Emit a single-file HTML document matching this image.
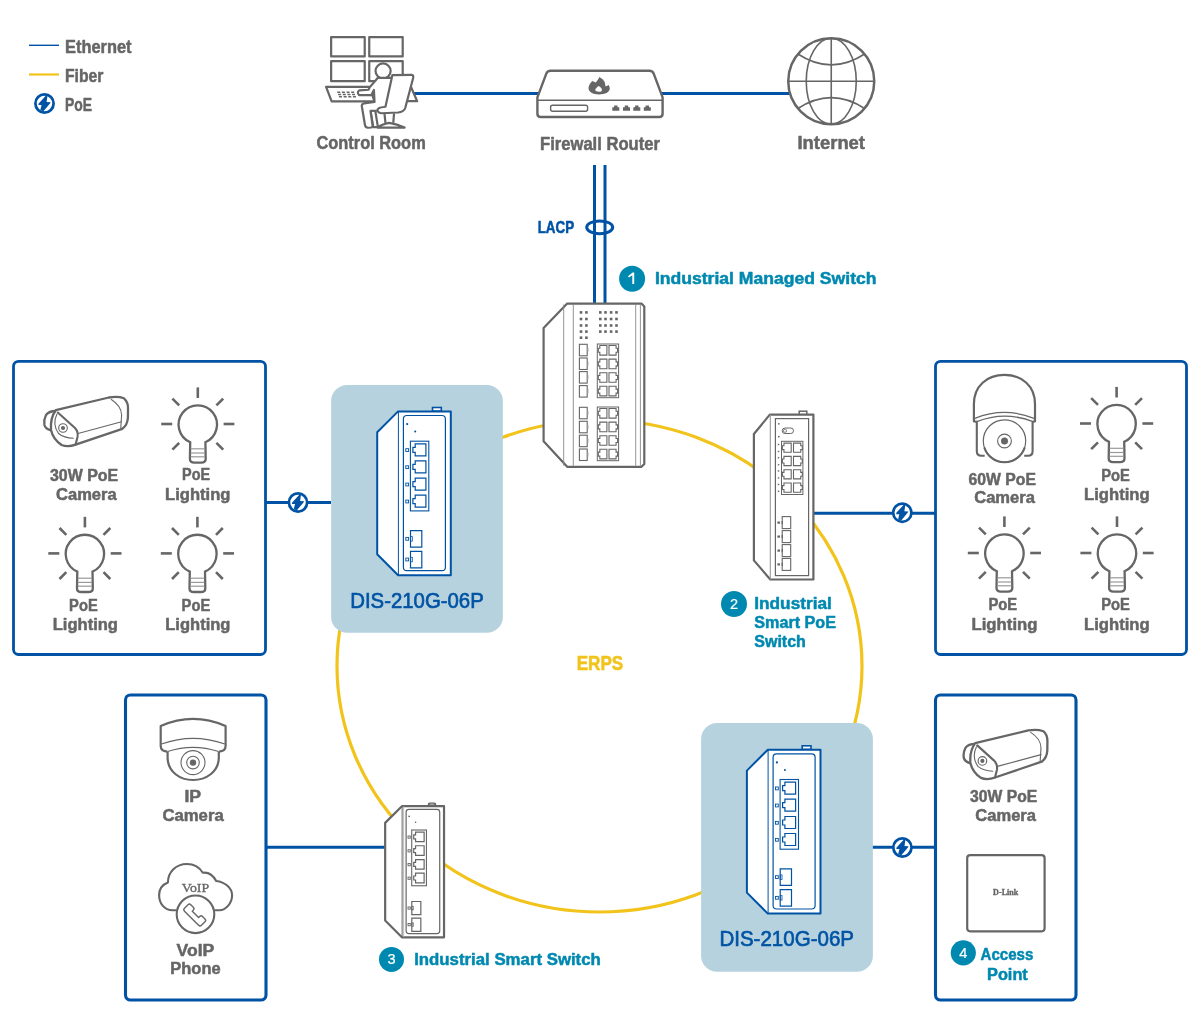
<!DOCTYPE html><html><head><meta charset="utf-8"><style>html,body{margin:0;padding:0;background:#fff;overflow:hidden}svg{display:block;will-change:transform}svg{font-family:"Liberation Sans",sans-serif}</style></head><body>
<svg width="1200" height="1034" viewBox="0 0 1200 1034">
<rect width="1200" height="1034" fill="#fff"/>
<line x1="29" y1="45.3" x2="59" y2="45.3" stroke="#0053a4" stroke-width="1.4"/>
<line x1="29" y1="74.5" x2="59" y2="74.5" stroke="#f2c31a" stroke-width="2.2"/>
<g transform="translate(44.5,103.5)"><circle r="9.1" fill="#fff" stroke="#0053a4" stroke-width="2.7"/><path d="M1.25,-7.7 L-6,0.15 L-6,1.45 L-2.96,1.45 L-4.26,6.8 L-1.07,7.7 L5.9,-0.58 L5.9,-1.16 L2.1,-1.45 L2.7,-5.66 L3,-7.7 Z" fill="#0053a4"/></g>
<text x="65" y="52.90" font-size="17.88" font-weight="bold" fill="#666666" text-anchor="start" textLength="66.5" lengthAdjust="spacingAndGlyphs" stroke="#666666" stroke-width="0.5" stroke-linejoin="round" >Ethernet</text>
<text x="65" y="81.90" font-size="17.88" font-weight="bold" fill="#666666" text-anchor="start" textLength="38.5" lengthAdjust="spacingAndGlyphs" stroke="#666666" stroke-width="0.5" stroke-linejoin="round" >Fiber</text>
<text x="65" y="110.90" font-size="17.88" font-weight="bold" fill="#666666" text-anchor="start" textLength="27" lengthAdjust="spacingAndGlyphs" stroke="#666666" stroke-width="0.5" stroke-linejoin="round" >PoE</text>
<line x1="414" y1="93.4" x2="540" y2="93.4" stroke="#0053a4" stroke-width="3"/>
<line x1="660" y1="93.4" x2="789" y2="93.4" stroke="#0053a4" stroke-width="3"/>
<ellipse cx="599.5" cy="666" rx="262.5" ry="246" fill="none" stroke="#f2c31a" stroke-width="3.2"/>
<text x="600" y="670.40" font-size="19.91" font-weight="bold" fill="#f2c31a" text-anchor="middle" textLength="46.6" lengthAdjust="spacingAndGlyphs" stroke="#f2c31a" stroke-width="0.5" stroke-linejoin="round" >ERPS</text>
<line x1="594.5" y1="165" x2="594.5" y2="303.5" stroke="#0053a4" stroke-width="3"/>
<line x1="605" y1="165" x2="605" y2="303.5" stroke="#0053a4" stroke-width="3"/>
<ellipse cx="599.7" cy="227.3" rx="13" ry="6.4" fill="none" stroke="#0053a4" stroke-width="3"/>
<text x="537.7" y="233.10" font-size="15.7" font-weight="bold" fill="#0053a4" text-anchor="start" textLength="36.4" lengthAdjust="spacingAndGlyphs" stroke="#0053a4" stroke-width="0.5" stroke-linejoin="round" >LACP</text>
<circle cx="632.1" cy="278.8" r="13" fill="#0089b0"/>
<path d="M634.2,272.6 V283.90000000000003 H632.3000000000001 V275.3 L628.9,277.6 L628.0,276.2 L632.6,272.6 Z" fill="#fff"/>
<text x="654.9" y="284.00" font-size="16.42" font-weight="bold" fill="#0089b0" text-anchor="start" textLength="221.6" lengthAdjust="spacingAndGlyphs" stroke="#0089b0" stroke-width="0.5" stroke-linejoin="round" >Industrial Managed Switch</text>
<line x1="265" y1="502.4" x2="331" y2="502.4" stroke="#0053a4" stroke-width="3"/>
<rect x="13.5" y="361.4" width="252.0" height="293.1" rx="5" fill="#fff" stroke="#0053a4" stroke-width="2.8"/>
<g transform="translate(298,502.5)"><circle r="9.1" fill="#fff" stroke="#0053a4" stroke-width="2.7"/><path d="M1.25,-7.7 L-6,0.15 L-6,1.45 L-2.96,1.45 L-4.26,6.8 L-1.07,7.7 L5.9,-0.58 L5.9,-1.16 L2.1,-1.45 L2.7,-5.66 L3,-7.7 Z" fill="#0053a4"/></g>
<line x1="814" y1="513.2" x2="936" y2="513.2" stroke="#0053a4" stroke-width="3"/>
<rect x="935.5" y="361.4" width="251.0" height="293.1" rx="5" fill="#fff" stroke="#0053a4" stroke-width="2.8"/>
<g transform="translate(902.3,512.7)"><circle r="9.1" fill="#fff" stroke="#0053a4" stroke-width="2.7"/><path d="M1.25,-7.7 L-6,0.15 L-6,1.45 L-2.96,1.45 L-4.26,6.8 L-1.07,7.7 L5.9,-0.58 L5.9,-1.16 L2.1,-1.45 L2.7,-5.66 L3,-7.7 Z" fill="#0053a4"/></g>
<line x1="266" y1="847.3" x2="386" y2="847.3" stroke="#0053a4" stroke-width="3"/>
<rect x="125.5" y="695" width="140.5" height="305" rx="5" fill="#fff" stroke="#0053a4" stroke-width="3.1"/>
<line x1="872" y1="847.2" x2="936" y2="847.2" stroke="#0053a4" stroke-width="3"/>
<rect x="935.5" y="695" width="140.5" height="305" rx="5" fill="#fff" stroke="#0053a4" stroke-width="3.1"/>
<g transform="translate(902.4,847.5)"><circle r="9.1" fill="#fff" stroke="#0053a4" stroke-width="2.7"/><path d="M1.25,-7.7 L-6,0.15 L-6,1.45 L-2.96,1.45 L-4.26,6.8 L-1.07,7.7 L5.9,-0.58 L5.9,-1.16 L2.1,-1.45 L2.7,-5.66 L3,-7.7 Z" fill="#0053a4"/></g>
<rect x="331.1" y="385.1" width="171.8" height="247.7" rx="16" fill="#b6d2df"/>
<rect x="701.1" y="723.1" width="171.8" height="248.7" rx="16" fill="#b6d2df"/>
<text x="350.2" y="607.80" font-size="21.22" font-weight="normal" fill="#0053a4" text-anchor="start" textLength="133.6" lengthAdjust="spacingAndGlyphs" stroke="#0053a4" stroke-width="0.65" stroke-linejoin="round" >DIS-210G-06P</text>
<text x="719.4" y="946.10" font-size="21.22" font-weight="normal" fill="#0053a4" text-anchor="start" textLength="134.6" lengthAdjust="spacingAndGlyphs" stroke="#0053a4" stroke-width="0.65" stroke-linejoin="round" >DIS-210G-06P</text>
<g transform="translate(197.8,424)" stroke="#666666" fill="none" stroke-linecap="butt">
<path d="M-7.6,18.2 A19.2,19.2 0 1 1 7.6,18.2 L7.9,35 Q7.9,38.6 3.5,38.6 L-3.5,38.6 Q-7.9,38.6 -7.9,35 Z" stroke-width="2.3" fill="#fff"/>
<g stroke-width="1.2" stroke="#999"><line x1="-7" y1="24.8" x2="7" y2="24.8"/><line x1="-7" y1="29" x2="7" y2="29"/><line x1="-7" y1="32.8" x2="7" y2="32.8"/></g>
<g stroke-width="2.6"><line x1="0" y1="-36.6" x2="0" y2="-26"/><line x1="-36.6" y1="0" x2="-25.6" y2="0"/><line x1="25.8" y1="0" x2="36.6" y2="0"/><line x1="-25.4" y1="-25.4" x2="-18.6" y2="-18.6"/><line x1="18.6" y1="-18.6" x2="25.4" y2="-25.4"/><line x1="-25.4" y1="25.6" x2="-18.6" y2="18.8"/><line x1="18.6" y1="18.8" x2="25.4" y2="25.6"/></g></g>
<g transform="translate(84.9,553.4)" stroke="#666666" fill="none" stroke-linecap="butt">
<path d="M-7.6,18.2 A19.2,19.2 0 1 1 7.6,18.2 L7.9,35 Q7.9,38.6 3.5,38.6 L-3.5,38.6 Q-7.9,38.6 -7.9,35 Z" stroke-width="2.3" fill="#fff"/>
<g stroke-width="1.2" stroke="#999"><line x1="-7" y1="24.8" x2="7" y2="24.8"/><line x1="-7" y1="29" x2="7" y2="29"/><line x1="-7" y1="32.8" x2="7" y2="32.8"/></g>
<g stroke-width="2.6"><line x1="0" y1="-36.6" x2="0" y2="-26"/><line x1="-36.6" y1="0" x2="-25.6" y2="0"/><line x1="25.8" y1="0" x2="36.6" y2="0"/><line x1="-25.4" y1="-25.4" x2="-18.6" y2="-18.6"/><line x1="18.6" y1="-18.6" x2="25.4" y2="-25.4"/><line x1="-25.4" y1="25.6" x2="-18.6" y2="18.8"/><line x1="18.6" y1="18.8" x2="25.4" y2="25.6"/></g></g>
<g transform="translate(197.4,553.4)" stroke="#666666" fill="none" stroke-linecap="butt">
<path d="M-7.6,18.2 A19.2,19.2 0 1 1 7.6,18.2 L7.9,35 Q7.9,38.6 3.5,38.6 L-3.5,38.6 Q-7.9,38.6 -7.9,35 Z" stroke-width="2.3" fill="#fff"/>
<g stroke-width="1.2" stroke="#999"><line x1="-7" y1="24.8" x2="7" y2="24.8"/><line x1="-7" y1="29" x2="7" y2="29"/><line x1="-7" y1="32.8" x2="7" y2="32.8"/></g>
<g stroke-width="2.6"><line x1="0" y1="-36.6" x2="0" y2="-26"/><line x1="-36.6" y1="0" x2="-25.6" y2="0"/><line x1="25.8" y1="0" x2="36.6" y2="0"/><line x1="-25.4" y1="-25.4" x2="-18.6" y2="-18.6"/><line x1="18.6" y1="-18.6" x2="25.4" y2="-25.4"/><line x1="-25.4" y1="25.6" x2="-18.6" y2="18.8"/><line x1="18.6" y1="18.8" x2="25.4" y2="25.6"/></g></g>
<g transform="translate(1116.6,423.5)" stroke="#666666" fill="none" stroke-linecap="butt">
<path d="M-7.6,18.2 A19.2,19.2 0 1 1 7.6,18.2 L7.9,35 Q7.9,38.6 3.5,38.6 L-3.5,38.6 Q-7.9,38.6 -7.9,35 Z" stroke-width="2.3" fill="#fff"/>
<g stroke-width="1.2" stroke="#999"><line x1="-7" y1="24.8" x2="7" y2="24.8"/><line x1="-7" y1="29" x2="7" y2="29"/><line x1="-7" y1="32.8" x2="7" y2="32.8"/></g>
<g stroke-width="2.6"><line x1="0" y1="-36.6" x2="0" y2="-26"/><line x1="-36.6" y1="0" x2="-25.6" y2="0"/><line x1="25.8" y1="0" x2="36.6" y2="0"/><line x1="-25.4" y1="-25.4" x2="-18.6" y2="-18.6"/><line x1="18.6" y1="-18.6" x2="25.4" y2="-25.4"/><line x1="-25.4" y1="25.6" x2="-18.6" y2="18.8"/><line x1="18.6" y1="18.8" x2="25.4" y2="25.6"/></g></g>
<g transform="translate(1004.4,553)" stroke="#666666" fill="none" stroke-linecap="butt">
<path d="M-7.6,18.2 A19.2,19.2 0 1 1 7.6,18.2 L7.9,35 Q7.9,38.6 3.5,38.6 L-3.5,38.6 Q-7.9,38.6 -7.9,35 Z" stroke-width="2.3" fill="#fff"/>
<g stroke-width="1.2" stroke="#999"><line x1="-7" y1="24.8" x2="7" y2="24.8"/><line x1="-7" y1="29" x2="7" y2="29"/><line x1="-7" y1="32.8" x2="7" y2="32.8"/></g>
<g stroke-width="2.6"><line x1="0" y1="-36.6" x2="0" y2="-26"/><line x1="-36.6" y1="0" x2="-25.6" y2="0"/><line x1="25.8" y1="0" x2="36.6" y2="0"/><line x1="-25.4" y1="-25.4" x2="-18.6" y2="-18.6"/><line x1="18.6" y1="-18.6" x2="25.4" y2="-25.4"/><line x1="-25.4" y1="25.6" x2="-18.6" y2="18.8"/><line x1="18.6" y1="18.8" x2="25.4" y2="25.6"/></g></g>
<g transform="translate(1117,553)" stroke="#666666" fill="none" stroke-linecap="butt">
<path d="M-7.6,18.2 A19.2,19.2 0 1 1 7.6,18.2 L7.9,35 Q7.9,38.6 3.5,38.6 L-3.5,38.6 Q-7.9,38.6 -7.9,35 Z" stroke-width="2.3" fill="#fff"/>
<g stroke-width="1.2" stroke="#999"><line x1="-7" y1="24.8" x2="7" y2="24.8"/><line x1="-7" y1="29" x2="7" y2="29"/><line x1="-7" y1="32.8" x2="7" y2="32.8"/></g>
<g stroke-width="2.6"><line x1="0" y1="-36.6" x2="0" y2="-26"/><line x1="-36.6" y1="0" x2="-25.6" y2="0"/><line x1="25.8" y1="0" x2="36.6" y2="0"/><line x1="-25.4" y1="-25.4" x2="-18.6" y2="-18.6"/><line x1="18.6" y1="-18.6" x2="25.4" y2="-25.4"/><line x1="-25.4" y1="25.6" x2="-18.6" y2="18.8"/><line x1="18.6" y1="18.8" x2="25.4" y2="25.6"/></g></g>
<text x="50" y="480.60" font-size="16.42" font-weight="bold" fill="#666666" text-anchor="start" textLength="68.2" lengthAdjust="spacingAndGlyphs" stroke="#666666" stroke-width="0.5" stroke-linejoin="round" >30W PoE</text>
<text x="56" y="500.00" font-size="16.42" font-weight="bold" fill="#666666" text-anchor="start" textLength="60.7" lengthAdjust="spacingAndGlyphs" stroke="#666666" stroke-width="0.5" stroke-linejoin="round" >Camera</text>
<text x="182" y="480.40" font-size="16.42" font-weight="bold" fill="#666666" text-anchor="start" textLength="28.1" lengthAdjust="spacingAndGlyphs" stroke="#666666" stroke-width="0.5" stroke-linejoin="round" >PoE</text>
<text x="165.1" y="499.90" font-size="16.42" font-weight="bold" fill="#666666" text-anchor="start" textLength="65.4" lengthAdjust="spacingAndGlyphs" stroke="#666666" stroke-width="0.5" stroke-linejoin="round" >Lighting</text>
<text x="69.1" y="610.70" font-size="16.42" font-weight="bold" fill="#666666" text-anchor="start" textLength="28.6" lengthAdjust="spacingAndGlyphs" stroke="#666666" stroke-width="0.5" stroke-linejoin="round" >PoE</text>
<text x="52.7" y="629.80" font-size="16.42" font-weight="bold" fill="#666666" text-anchor="start" textLength="65.3" lengthAdjust="spacingAndGlyphs" stroke="#666666" stroke-width="0.5" stroke-linejoin="round" >Lighting</text>
<text x="181.6" y="610.70" font-size="16.42" font-weight="bold" fill="#666666" text-anchor="start" textLength="28.6" lengthAdjust="spacingAndGlyphs" stroke="#666666" stroke-width="0.5" stroke-linejoin="round" >PoE</text>
<text x="165.2" y="629.80" font-size="16.42" font-weight="bold" fill="#666666" text-anchor="start" textLength="65.3" lengthAdjust="spacingAndGlyphs" stroke="#666666" stroke-width="0.5" stroke-linejoin="round" >Lighting</text>
<text x="968.6" y="484.60" font-size="16.42" font-weight="bold" fill="#666666" text-anchor="start" textLength="67.4" lengthAdjust="spacingAndGlyphs" stroke="#666666" stroke-width="0.5" stroke-linejoin="round" >60W PoE</text>
<text x="974.2" y="502.90" font-size="16.42" font-weight="bold" fill="#666666" text-anchor="start" textLength="60.7" lengthAdjust="spacingAndGlyphs" stroke="#666666" stroke-width="0.5" stroke-linejoin="round" >Camera</text>
<text x="1101.2" y="480.80" font-size="16.42" font-weight="bold" fill="#666666" text-anchor="start" textLength="28.7" lengthAdjust="spacingAndGlyphs" stroke="#666666" stroke-width="0.5" stroke-linejoin="round" >PoE</text>
<text x="1084" y="500.00" font-size="16.42" font-weight="bold" fill="#666666" text-anchor="start" textLength="65.7" lengthAdjust="spacingAndGlyphs" stroke="#666666" stroke-width="0.5" stroke-linejoin="round" >Lighting</text>
<text x="988.5" y="610.40" font-size="16.42" font-weight="bold" fill="#666666" text-anchor="start" textLength="28.7" lengthAdjust="spacingAndGlyphs" stroke="#666666" stroke-width="0.5" stroke-linejoin="round" >PoE</text>
<text x="971.5" y="630.00" font-size="16.42" font-weight="bold" fill="#666666" text-anchor="start" textLength="66" lengthAdjust="spacingAndGlyphs" stroke="#666666" stroke-width="0.5" stroke-linejoin="round" >Lighting</text>
<text x="1101.2" y="610.40" font-size="16.42" font-weight="bold" fill="#666666" text-anchor="start" textLength="28.7" lengthAdjust="spacingAndGlyphs" stroke="#666666" stroke-width="0.5" stroke-linejoin="round" >PoE</text>
<text x="1084" y="630.00" font-size="16.42" font-weight="bold" fill="#666666" text-anchor="start" textLength="65.7" lengthAdjust="spacingAndGlyphs" stroke="#666666" stroke-width="0.5" stroke-linejoin="round" >Lighting</text>
<text x="184.4" y="801.70" font-size="16.42" font-weight="bold" fill="#666666" text-anchor="start" textLength="16.7" lengthAdjust="spacingAndGlyphs" stroke="#666666" stroke-width="0.5" stroke-linejoin="round" >IP</text>
<text x="162.4" y="820.60" font-size="16.42" font-weight="bold" fill="#666666" text-anchor="start" textLength="61.3" lengthAdjust="spacingAndGlyphs" stroke="#666666" stroke-width="0.5" stroke-linejoin="round" >Camera</text>
<text x="176.6" y="955.80" font-size="16.42" font-weight="bold" fill="#666666" text-anchor="start" textLength="37.7" lengthAdjust="spacingAndGlyphs" stroke="#666666" stroke-width="0.5" stroke-linejoin="round" >VoIP</text>
<text x="170.3" y="974.00" font-size="16.42" font-weight="bold" fill="#666666" text-anchor="start" textLength="50.3" lengthAdjust="spacingAndGlyphs" stroke="#666666" stroke-width="0.5" stroke-linejoin="round" >Phone</text>
<text x="970" y="801.70" font-size="16.42" font-weight="bold" fill="#666666" text-anchor="start" textLength="67.2" lengthAdjust="spacingAndGlyphs" stroke="#666666" stroke-width="0.5" stroke-linejoin="round" >30W PoE</text>
<text x="975.3" y="821.20" font-size="16.42" font-weight="bold" fill="#666666" text-anchor="start" textLength="60.7" lengthAdjust="spacingAndGlyphs" stroke="#666666" stroke-width="0.5" stroke-linejoin="round" >Camera</text>
<circle cx="734" cy="604" r="13" fill="#0089b0"/>
<text x="734" y="609.00" font-size="14.6" font-weight="normal" fill="#fff" text-anchor="middle" stroke="#fff" stroke-width="0.2" stroke-linejoin="round" >2</text>
<text x="754.3" y="608.70" font-size="16.42" font-weight="bold" fill="#0089b0" text-anchor="start" textLength="77.5" lengthAdjust="spacingAndGlyphs" stroke="#0089b0" stroke-width="0.5" stroke-linejoin="round" >Industrial</text>
<text x="754.3" y="628.10" font-size="16.42" font-weight="bold" fill="#0089b0" text-anchor="start" textLength="81.7" lengthAdjust="spacingAndGlyphs" stroke="#0089b0" stroke-width="0.5" stroke-linejoin="round" >Smart PoE</text>
<text x="754.3" y="646.90" font-size="16.42" font-weight="bold" fill="#0089b0" text-anchor="start" textLength="51.5" lengthAdjust="spacingAndGlyphs" stroke="#0089b0" stroke-width="0.5" stroke-linejoin="round" >Switch</text>
<circle cx="391.5" cy="959.4" r="12.5" fill="#0089b0"/>
<text x="391.5" y="964.40" font-size="14.6" font-weight="normal" fill="#fff" text-anchor="middle" stroke="#fff" stroke-width="0.2" stroke-linejoin="round" >3</text>
<text x="414.2" y="965.40" font-size="16.42" font-weight="bold" fill="#0089b0" text-anchor="start" textLength="186.6" lengthAdjust="spacingAndGlyphs" stroke="#0089b0" stroke-width="0.5" stroke-linejoin="round" >Industrial Smart Switch</text>
<circle cx="963.3" cy="952.8" r="12.6" fill="#0089b0"/>
<text x="963.3" y="957.80" font-size="14.6" font-weight="normal" fill="#fff" text-anchor="middle" stroke="#fff" stroke-width="0.2" stroke-linejoin="round" >4</text>
<text x="980.6" y="960.30" font-size="16.42" font-weight="bold" fill="#0089b0" text-anchor="start" textLength="52.8" lengthAdjust="spacingAndGlyphs" stroke="#0089b0" stroke-width="0.5" stroke-linejoin="round" >Access</text>
<text x="987" y="979.50" font-size="16.42" font-weight="bold" fill="#0089b0" text-anchor="start" textLength="40.8" lengthAdjust="spacingAndGlyphs" stroke="#0089b0" stroke-width="0.5" stroke-linejoin="round" >Point</text>
<text x="316.5" y="149.40" font-size="17.44" font-weight="bold" fill="#666666" text-anchor="start" textLength="109.2" lengthAdjust="spacingAndGlyphs" stroke="#666666" stroke-width="0.5" stroke-linejoin="round" >Control Room</text>
<text x="540" y="149.70" font-size="17.44" font-weight="bold" fill="#666666" text-anchor="start" textLength="120" lengthAdjust="spacingAndGlyphs" stroke="#666666" stroke-width="0.5" stroke-linejoin="round" >Firewall Router</text>
<text x="797.5" y="149.40" font-size="17.44" font-weight="bold" fill="#666666" text-anchor="start" textLength="67.5" lengthAdjust="spacingAndGlyphs" stroke="#666666" stroke-width="0.5" stroke-linejoin="round" >Internet</text>
<g transform="translate(376.5,410.7) scale(1.0)" fill="none" stroke="#0053a4">
<rect x="56" y="-3.2" width="8.8" height="3.6" fill="#fff" stroke-width="1.60"/>
<path d="M21.6,0.7 H74.3 V164.6 H21.6 L0.7,143.6 V21.6 Z" fill="#fff" stroke-width="2.00" stroke-linejoin="round"/>
<line x1="21.9" y1="0.7" x2="21.9" y2="164.6" stroke-width="1.00"/>
<rect x="26.9" y="4.8" width="42" height="155.2" rx="3.5" stroke-width="1.20"/>
<circle cx="30.7" cy="13.4" r="1.1" fill="#0053a4" stroke="none"/>
<circle cx="38.7" cy="20.9" r="1.0" fill="#0053a4" stroke="none"/>
<rect x="33.9" y="30.5" width="18.4" height="69.7" stroke-width="1.10"/>
<path d="M38.70,33.10 H49.40 V45.10 H38.70 V41.62 H36.40 V36.58 H38.70 Z" stroke-width="1.20"/>
<rect x="29.3" y="38.0" width="2.8" height="2.8" stroke-width="0.90"/>
<path d="M38.70,50.20 H49.40 V62.20 H38.70 V58.72 H36.40 V53.68 H38.70 Z" stroke-width="1.20"/>
<rect x="29.3" y="55.1" width="2.8" height="2.8" stroke-width="0.90"/>
<path d="M38.70,67.50 H49.40 V79.50 H38.70 V76.02 H36.40 V70.98 H38.70 Z" stroke-width="1.20"/>
<rect x="29.3" y="72.4" width="2.8" height="2.8" stroke-width="0.90"/>
<path d="M38.70,84.50 H49.40 V96.50 H38.70 V93.02 H36.40 V87.98 H38.70 Z" stroke-width="1.20"/>
<rect x="29.3" y="89.4" width="2.8" height="2.8" stroke-width="0.90"/>
<path d="M34,119.9 H45.3 V136.4 H34 Z" stroke-width="1.20"/>
<rect x="34" y="125.9" width="1.8" height="4.5" stroke-width="0.80"/>
<rect x="29.3" y="126.7" width="2.8" height="2.8" stroke-width="0.90"/>
<path d="M34,140.6 H45.3 V157.1 H34 Z" stroke-width="1.20"/>
<rect x="34" y="146.6" width="1.8" height="4.5" stroke-width="0.80"/>
<rect x="29.3" y="147.4" width="2.8" height="2.8" stroke-width="0.90"/>
</g>
<g transform="translate(746.2,749.0) scale(1.0)" fill="none" stroke="#0053a4">
<rect x="56" y="-3.2" width="8.8" height="3.6" fill="#fff" stroke-width="1.60"/>
<path d="M21.6,0.7 H74.3 V164.6 H21.6 L0.7,143.6 V21.6 Z" fill="#fff" stroke-width="2.00" stroke-linejoin="round"/>
<line x1="21.9" y1="0.7" x2="21.9" y2="164.6" stroke-width="1.00"/>
<rect x="26.9" y="4.8" width="42" height="155.2" rx="3.5" stroke-width="1.20"/>
<circle cx="30.7" cy="13.4" r="1.1" fill="#0053a4" stroke="none"/>
<circle cx="38.7" cy="20.9" r="1.0" fill="#0053a4" stroke="none"/>
<rect x="33.9" y="30.5" width="18.4" height="69.7" stroke-width="1.10"/>
<path d="M38.70,33.10 H49.40 V45.10 H38.70 V41.62 H36.40 V36.58 H38.70 Z" stroke-width="1.20"/>
<rect x="29.3" y="38.0" width="2.8" height="2.8" stroke-width="0.90"/>
<path d="M38.70,50.20 H49.40 V62.20 H38.70 V58.72 H36.40 V53.68 H38.70 Z" stroke-width="1.20"/>
<rect x="29.3" y="55.1" width="2.8" height="2.8" stroke-width="0.90"/>
<path d="M38.70,67.50 H49.40 V79.50 H38.70 V76.02 H36.40 V70.98 H38.70 Z" stroke-width="1.20"/>
<rect x="29.3" y="72.4" width="2.8" height="2.8" stroke-width="0.90"/>
<path d="M38.70,84.50 H49.40 V96.50 H38.70 V93.02 H36.40 V87.98 H38.70 Z" stroke-width="1.20"/>
<rect x="29.3" y="89.4" width="2.8" height="2.8" stroke-width="0.90"/>
<path d="M34,119.9 H45.3 V136.4 H34 Z" stroke-width="1.20"/>
<rect x="34" y="125.9" width="1.8" height="4.5" stroke-width="0.80"/>
<rect x="29.3" y="126.7" width="2.8" height="2.8" stroke-width="0.90"/>
<path d="M34,140.6 H45.3 V157.1 H34 Z" stroke-width="1.20"/>
<rect x="34" y="146.6" width="1.8" height="4.5" stroke-width="0.80"/>
<rect x="29.3" y="147.4" width="2.8" height="2.8" stroke-width="0.90"/>
</g>
<g transform="translate(384.6,805.6) scale(0.8)" fill="none" stroke="#666666">
<rect x="54" y="-3.8" width="10.5" height="4.6" rx="2.2" fill="#666666" stroke="none"/>
<rect x="56.5" y="-2.4" width="5.5" height="1.6" fill="#aaa" stroke="none"/>
<path d="M21.6,0.7 H74.3 V164.6 H21.6 L0.7,143.6 V21.6 Z" fill="#fff" stroke-width="2.75" stroke-linejoin="round"/>
<line x1="21.9" y1="0.7" x2="21.9" y2="164.6" stroke-width="1.25"/>
<line x1="23.8" y1="0.7" x2="23.8" y2="164.6" stroke-width="1.00" stroke="#aaa"/>
<rect x="26.9" y="4.8" width="42" height="155.2" rx="3.5" stroke-width="1.50"/>
<circle cx="30.7" cy="13.4" r="1.1" fill="#666666" stroke="none"/>
<circle cx="38.7" cy="20.9" r="1.0" fill="#666666" stroke="none"/>
<rect x="33.9" y="30.5" width="18.4" height="69.7" stroke-width="1.38"/>
<path d="M38.70,33.10 H49.40 V45.10 H38.70 V41.62 H36.40 V36.58 H38.70 Z" stroke-width="1.50"/>
<rect x="29.3" y="38.0" width="2.8" height="2.8" stroke-width="1.12"/>
<path d="M38.70,50.20 H49.40 V62.20 H38.70 V58.72 H36.40 V53.68 H38.70 Z" stroke-width="1.50"/>
<rect x="29.3" y="55.1" width="2.8" height="2.8" stroke-width="1.12"/>
<path d="M38.70,67.50 H49.40 V79.50 H38.70 V76.02 H36.40 V70.98 H38.70 Z" stroke-width="1.50"/>
<rect x="29.3" y="72.4" width="2.8" height="2.8" stroke-width="1.12"/>
<path d="M38.70,84.50 H49.40 V96.50 H38.70 V93.02 H36.40 V87.98 H38.70 Z" stroke-width="1.50"/>
<rect x="29.3" y="89.4" width="2.8" height="2.8" stroke-width="1.12"/>
<path d="M34,119.9 H45.3 V136.4 H34 Z" stroke-width="1.50"/>
<rect x="34" y="125.9" width="1.8" height="4.5" stroke-width="1.00"/>
<rect x="29.3" y="126.7" width="2.8" height="2.8" stroke-width="1.12"/>
<path d="M34,140.6 H45.3 V157.1 H34 Z" stroke-width="1.50"/>
<rect x="34" y="146.6" width="1.8" height="4.5" stroke-width="1.00"/>
<rect x="29.3" y="147.4" width="2.8" height="2.8" stroke-width="1.12"/>
</g>
<g fill="none" stroke="#666666">
<rect x="799.2" y="411.2" width="7.6" height="3.6" fill="#fff" stroke-width="1.5"/>
<path d="M769.8,414.6 H813.4 V579.5 H770.3 L753.9,560.4 V434 Z" fill="#fff" stroke-width="2.2" stroke-linejoin="round"/>
<line x1="770.3" y1="414.6" x2="770.3" y2="579.5" stroke-width="1.1" stroke="#999"/>
<rect x="775.4" y="418.6" width="33.2" height="157" stroke-width="1.2"/>
<circle cx="778.8" cy="423.8" r="0.9" fill="#666666" stroke="none"/>
<circle cx="778.8" cy="436.7" r="0.9" fill="#666666" stroke="none"/>
<rect x="782.2" y="428" width="11.3" height="5.5" rx="2.75" stroke-width="1"/>
<circle cx="785" cy="430.75" r="1.6" stroke-width="0.8"/>
<rect x="781.5" y="441.3" width="21.4" height="53.2" stroke-width="1"/>
<path d="M783.96,443.10 H791.20 V452.30 H783.96 V449.63 H782.40 V445.77 H783.96 Z" stroke-width="1.1"/>
<path d="M793.50,443.10 H800.74 V445.77 H802.30 V449.63 H800.74 V452.30 H793.50 Z" stroke-width="1.1"/>
<path d="M783.96,456.40 H791.20 V465.60 H783.96 V462.93 H782.40 V459.07 H783.96 Z" stroke-width="1.1"/>
<path d="M793.50,456.40 H800.74 V459.07 H802.30 V462.93 H800.74 V465.60 H793.50 Z" stroke-width="1.1"/>
<path d="M783.96,469.70 H791.20 V478.90 H783.96 V476.23 H782.40 V472.37 H783.96 Z" stroke-width="1.1"/>
<path d="M793.50,469.70 H800.74 V472.37 H802.30 V476.23 H800.74 V478.90 H793.50 Z" stroke-width="1.1"/>
<path d="M783.96,483.00 H791.20 V492.20 H783.96 V489.53 H782.40 V485.67 H783.96 Z" stroke-width="1.1"/>
<path d="M793.50,483.00 H800.74 V485.67 H802.30 V489.53 H800.74 V492.20 H793.50 Z" stroke-width="1.1"/>
<path d="M777.8,443.5 L779.8,444.5 L777.8,445.5 Z" fill="#666666" stroke="none"/>
<path d="M777.8,450.4 L779.8,451.4 L777.8,452.4 Z" fill="#666666" stroke="none"/>
<path d="M777.8,456.8 L779.8,457.8 L777.8,458.8 Z" fill="#666666" stroke="none"/>
<path d="M777.8,463.7 L779.8,464.7 L777.8,465.7 Z" fill="#666666" stroke="none"/>
<path d="M777.8,470.1 L779.8,471.1 L777.8,472.1 Z" fill="#666666" stroke="none"/>
<path d="M777.8,477.0 L779.8,478.0 L777.8,479.0 Z" fill="#666666" stroke="none"/>
<path d="M777.8,483.4 L779.8,484.4 L777.8,485.4 Z" fill="#666666" stroke="none"/>
<path d="M777.8,490.3 L779.8,491.3 L777.8,492.3 Z" fill="#666666" stroke="none"/>
<rect x="782.2" y="516.6" width="8.5" height="12" stroke-width="1.1"/>
<rect x="781.6" y="521.0" width="1.4" height="3.2" fill="#666666" stroke="none"/>
<rect x="777.4" y="521.5" width="2.6" height="2.2" fill="#666666" stroke="none"/>
<rect x="782.2" y="530.6" width="8.5" height="12" stroke-width="1.1"/>
<rect x="781.6" y="535.0" width="1.4" height="3.2" fill="#666666" stroke="none"/>
<rect x="777.4" y="535.5" width="2.6" height="2.2" fill="#666666" stroke="none"/>
<rect x="782.2" y="544.6" width="8.5" height="12" stroke-width="1.1"/>
<rect x="781.6" y="549.0" width="1.4" height="3.2" fill="#666666" stroke="none"/>
<rect x="777.4" y="549.5" width="2.6" height="2.2" fill="#666666" stroke="none"/>
<rect x="782.2" y="558.4" width="8.5" height="12" stroke-width="1.1"/>
<rect x="781.6" y="562.8" width="1.4" height="3.2" fill="#666666" stroke="none"/>
<rect x="777.4" y="563.3" width="2.6" height="2.2" fill="#666666" stroke="none"/>
</g>
<g fill="none" stroke="#666666">
<path d="M567.2,303.6 H641.5 L644.3,306.5 V464 L641.5,466.8 H567.2 L543.6,441.3 V328 Z" fill="#fff" stroke-width="2.2" stroke-linejoin="round"/>
<line x1="563.7" y1="304.6" x2="563.7" y2="465.8" stroke-width="0.9" stroke="#888"/>
<line x1="573.3" y1="304.6" x2="573.3" y2="465.8" stroke-width="0.9" stroke="#888"/>
<line x1="635.7" y1="304.6" x2="635.7" y2="465.8" stroke-width="0.9" stroke="#888"/>
<line x1="640.4" y1="304.6" x2="640.4" y2="465.8" stroke-width="0.9" stroke="#888"/>
<rect x="579.7" y="311.09999999999997" width="2.6" height="2.6" fill="#666666" stroke="none"/>
<rect x="585.1" y="311.09999999999997" width="2.6" height="2.6" fill="#666666" stroke="none"/>
<rect x="579.7" y="317.7" width="2.6" height="2.6" fill="#666666" stroke="none"/>
<rect x="585.1" y="317.7" width="2.6" height="2.6" fill="#666666" stroke="none"/>
<rect x="579.7" y="324.2" width="2.6" height="2.6" fill="#666666" stroke="none"/>
<rect x="585.1" y="324.2" width="2.6" height="2.6" fill="#666666" stroke="none"/>
<rect x="579.7" y="330.3" width="2.6" height="2.6" fill="#666666" stroke="none"/>
<rect x="585.1" y="330.3" width="2.6" height="2.6" fill="#666666" stroke="none"/>
<rect x="579.7" y="336.4" width="2.6" height="2.6" fill="#666666" stroke="none"/>
<rect x="585.1" y="336.4" width="2.6" height="2.6" fill="#666666" stroke="none"/>
<rect x="599.0" y="311.09999999999997" width="2.6" height="2.6" fill="#666666" stroke="none"/>
<rect x="604.2" y="311.09999999999997" width="2.6" height="2.6" fill="#666666" stroke="none"/>
<rect x="609.8000000000001" y="311.09999999999997" width="2.6" height="2.6" fill="#666666" stroke="none"/>
<rect x="615.2" y="311.09999999999997" width="2.6" height="2.6" fill="#666666" stroke="none"/>
<rect x="599.0" y="317.7" width="2.6" height="2.6" fill="#666666" stroke="none"/>
<rect x="604.2" y="317.7" width="2.6" height="2.6" fill="#666666" stroke="none"/>
<rect x="609.8000000000001" y="317.7" width="2.6" height="2.6" fill="#666666" stroke="none"/>
<rect x="615.2" y="317.7" width="2.6" height="2.6" fill="#666666" stroke="none"/>
<rect x="599.0" y="324.2" width="2.6" height="2.6" fill="#666666" stroke="none"/>
<rect x="604.2" y="324.2" width="2.6" height="2.6" fill="#666666" stroke="none"/>
<rect x="609.8000000000001" y="324.2" width="2.6" height="2.6" fill="#666666" stroke="none"/>
<rect x="615.2" y="324.2" width="2.6" height="2.6" fill="#666666" stroke="none"/>
<rect x="599.0" y="330.3" width="2.6" height="2.6" fill="#666666" stroke="none"/>
<rect x="604.2" y="330.3" width="2.6" height="2.6" fill="#666666" stroke="none"/>
<rect x="609.8000000000001" y="330.3" width="2.6" height="2.6" fill="#666666" stroke="none"/>
<rect x="615.2" y="330.3" width="2.6" height="2.6" fill="#666666" stroke="none"/>
<rect x="579.4" y="344.3" width="7.8" height="11.5" stroke-width="1.1"/>
<rect x="587.2" y="347.8" width="1.2" height="4" fill="#999" stroke="none"/>
<rect x="579.4" y="358.0" width="7.8" height="11.5" stroke-width="1.1"/>
<rect x="587.2" y="361.5" width="1.2" height="4" fill="#999" stroke="none"/>
<rect x="579.4" y="371.6" width="7.8" height="11.5" stroke-width="1.1"/>
<rect x="587.2" y="375.1" width="1.2" height="4" fill="#999" stroke="none"/>
<rect x="579.4" y="385.6" width="7.8" height="11.5" stroke-width="1.1"/>
<rect x="587.2" y="389.1" width="1.2" height="4" fill="#999" stroke="none"/>
<rect x="579.4" y="407.3" width="7.8" height="11.5" stroke-width="1.1"/>
<rect x="587.2" y="410.8" width="1.2" height="4" fill="#999" stroke="none"/>
<rect x="579.4" y="421.3" width="7.8" height="11.5" stroke-width="1.1"/>
<rect x="587.2" y="424.8" width="1.2" height="4" fill="#999" stroke="none"/>
<rect x="579.4" y="435.2" width="7.8" height="11.5" stroke-width="1.1"/>
<rect x="587.2" y="438.7" width="1.2" height="4" fill="#999" stroke="none"/>
<rect x="579.4" y="449.0" width="7.8" height="11.5" stroke-width="1.1"/>
<rect x="587.2" y="452.5" width="1.2" height="4" fill="#999" stroke="none"/>
<rect x="597.3" y="344.0" width="21.3" height="53.7" stroke-width="1"/>
<path d="M599.82,345.50 H606.90 V355.10 H599.82 V352.32 H598.30 V348.28 H599.82 Z" stroke-width="1.1"/>
<path d="M609.00,345.50 H616.08 V348.28 H617.60 V352.32 H616.08 V355.10 H609.00 Z" stroke-width="1.1"/>
<path d="M599.82,359.10 H606.90 V368.70 H599.82 V365.92 H598.30 V361.88 H599.82 Z" stroke-width="1.1"/>
<path d="M609.00,359.10 H616.08 V361.88 H617.60 V365.92 H616.08 V368.70 H609.00 Z" stroke-width="1.1"/>
<path d="M599.82,372.70 H606.90 V382.30 H599.82 V379.52 H598.30 V375.48 H599.82 Z" stroke-width="1.1"/>
<path d="M609.00,372.70 H616.08 V375.48 H617.60 V379.52 H616.08 V382.30 H609.00 Z" stroke-width="1.1"/>
<path d="M599.82,386.30 H606.90 V395.90 H599.82 V393.12 H598.30 V389.08 H599.82 Z" stroke-width="1.1"/>
<path d="M609.00,386.30 H616.08 V389.08 H617.60 V393.12 H616.08 V395.90 H609.00 Z" stroke-width="1.1"/>
<rect x="597.3" y="407.0" width="21.3" height="53.7" stroke-width="1"/>
<path d="M599.82,408.50 H606.90 V418.10 H599.82 V415.32 H598.30 V411.28 H599.82 Z" stroke-width="1.1"/>
<path d="M609.00,408.50 H616.08 V411.28 H617.60 V415.32 H616.08 V418.10 H609.00 Z" stroke-width="1.1"/>
<path d="M599.82,422.10 H606.90 V431.70 H599.82 V428.92 H598.30 V424.88 H599.82 Z" stroke-width="1.1"/>
<path d="M609.00,422.10 H616.08 V424.88 H617.60 V428.92 H616.08 V431.70 H609.00 Z" stroke-width="1.1"/>
<path d="M599.82,435.70 H606.90 V445.30 H599.82 V442.52 H598.30 V438.48 H599.82 Z" stroke-width="1.1"/>
<path d="M609.00,435.70 H616.08 V438.48 H617.60 V442.52 H616.08 V445.30 H609.00 Z" stroke-width="1.1"/>
<path d="M599.82,449.30 H606.90 V458.90 H599.82 V456.12 H598.30 V452.08 H599.82 Z" stroke-width="1.1"/>
<path d="M609.00,449.30 H616.08 V452.08 H617.60 V456.12 H616.08 V458.90 H609.00 Z" stroke-width="1.1"/>
</g>
<g transform="translate(0,0)" fill="none" stroke="#666" stroke-linejoin="round" stroke-linecap="round">
<path d="M55.8,411 Q49,411 46,415 Q43.5,420 44.4,425 Q45.5,429 51.1,430.4" stroke-width="2.3" fill="#fff"/>
<path d="M55.8,410.2 L108.9,397.5 Q118,396 123.9,398.3 Q128.5,402 128,410 L127.9,417.7 Q127.5,425 122.3,428.8 L75.6,444.6 Q68,447.5 61.5,445 Q53,439 51,430 Q50,418 55.8,410.2 Z" stroke-width="2.3" fill="#fff"/>
<path d="M57.8,412.5 L75,428 Q78.5,432 77.5,437 L75.6,444.6" stroke-width="2.1"/>
<path d="M57,414 Q52,424 58.5,433.5 Q64,438 73.3,438.3" stroke-width="1.1"/>
<circle cx="63" cy="428" r="4.3" stroke-width="1.1"/>
<circle cx="63" cy="428" r="2.1" fill="#666" stroke="none"/>
<path d="M78,433.5 L121.6,421.7" stroke-width="1.1"/>
<path d="M111.3,399.5 Q121.5,406 121.6,415 L120.8,428" stroke-width="1.1"/>
</g>
<g transform="translate(919.4,332.9)" fill="none" stroke="#666" stroke-linejoin="round" stroke-linecap="round">
<path d="M55.8,411 Q49,411 46,415 Q43.5,420 44.4,425 Q45.5,429 51.1,430.4" stroke-width="2.3" fill="#fff"/>
<path d="M55.8,410.2 L108.9,397.5 Q118,396 123.9,398.3 Q128.5,402 128,410 L127.9,417.7 Q127.5,425 122.3,428.8 L75.6,444.6 Q68,447.5 61.5,445 Q53,439 51,430 Q50,418 55.8,410.2 Z" stroke-width="2.3" fill="#fff"/>
<path d="M57.8,412.5 L75,428 Q78.5,432 77.5,437 L75.6,444.6" stroke-width="2.1"/>
<path d="M57,414 Q52,424 58.5,433.5 Q64,438 73.3,438.3" stroke-width="1.1"/>
<circle cx="63" cy="428" r="4.3" stroke-width="1.1"/>
<circle cx="63" cy="428" r="2.1" fill="#666" stroke="none"/>
<path d="M78,433.5 L121.6,421.7" stroke-width="1.1"/>
<path d="M111.3,399.5 Q121.5,406 121.6,415 L120.8,428" stroke-width="1.1"/>
</g>
<g fill="none" stroke="#666" stroke-linejoin="round">
<path d="M976.8,421.7 L973.9,421.3 L973.9,404 C973.9,386 987,374.9 1004.5,374.9 C1022,374.9 1035,386 1035,404 L1035,421.3 L1033,421.7" stroke-width="2.2" fill="#fff"/>
<path d="M974.9,418.3 Q1004.5,406.5 1034,418.3" stroke-width="1.3"/>
<path d="M976.8,421.7 Q1004.5,410.5 1033,421.7" stroke-width="1.3"/>
<path d="M976.8,421.7 L976.8,451 Q976.8,455.8 981.5,455.8 L984.7,455.8" stroke-width="2.1"/>
<path d="M1032.6,421.7 L1032.6,451 Q1032.6,455.8 1028,455.8 L1024.2,455.8" stroke-width="2.1"/>
<circle cx="1004.5" cy="441" r="21.2" stroke-width="1.2"/>
<path d="M984.3,447.5 A21.2,21.2 0 0 0 1024.7,447.5" stroke-width="2.2"/>
<circle cx="1004.5" cy="441" r="6.9" stroke-width="1.1"/>
<circle cx="1004.5" cy="441" r="3.5" fill="#666" stroke="none"/>
</g>
<g fill="none" stroke="#666" stroke-linejoin="round">
<path d="M167.2,751.7 Q160.7,751 160.7,746 L160.7,726 Q193,711.8 225.6,726 L225.6,746 Q225.6,751 219.1,751.7" stroke-width="2.2" fill="#fff"/>
<path d="M161.5,744 Q193,732.6 224.8,744" stroke-width="1.3"/>
<path d="M167.5,751.5 Q193,743.1 218.6,751.5" stroke-width="1.3"/>
<path d="M167.6,751.5 L167.6,758 C168,772 180,780 193,780 C206,780 218.5,772 218.8,758 L218.8,751.5" stroke-width="2.2"/>
<circle cx="193" cy="762.6" r="12" stroke-width="1.1"/>
<circle cx="193" cy="762.6" r="6.3" stroke-width="1.1"/>
<circle cx="193" cy="762.6" r="3.2" fill="#666" stroke="none"/>
</g>
<g fill="none" stroke="#666" stroke-linejoin="round">
<path d="M176.6,910.3 L172.6,910.3 C164,910.3 159.1,903 159.1,895.3 C159.1,889 163,884.5 167.9,882.6 C168,872 176,864 186.9,864 C194,864 199.5,867.5 202.8,872.7 C208,872 213,875 216.2,881 C225,882 232.1,888 232.1,895.3 C232.1,903 226,910.3 219.4,910.3 L214.6,910.3" stroke-width="2.1"/>
<circle cx="195.5" cy="914.3" r="18.8" stroke-width="2.1" fill="#fff"/>
<g transform="translate(197.2,912.6) rotate(-45)">
<path d="M-6,-12 H-1 Q1,-12 1,-10 V-6.5 Q1,-4.5 -1,-4.5 H-2.5 V4.5 H-1 Q1,4.5 1,6.5 V10 Q1,12 -1,12 H-6 Q-8,12 -8,10 V-10 Q-8,-12 -6,-12 Z" stroke-width="1.4"/>
</g>
<text x="195.4" y="891.7" style="font-family:'Liberation Serif',serif" font-size="12.4" fill="#666" stroke="#666" stroke-width="0.35" text-anchor="middle" textLength="27.4" lengthAdjust="spacingAndGlyphs">VoIP</text>
</g>
<g fill="none" stroke="#666">
<rect x="967.2" y="855.2" width="77.4" height="76.1" rx="3" stroke-width="2.2" fill="#fff"/>
<text x="1005.7" y="895" style="font-family:'Liberation Serif',serif" font-weight="bold" font-size="7.2" fill="#666" stroke="#666" stroke-width="0.3" text-anchor="middle" textLength="25.2" lengthAdjust="spacingAndGlyphs">D-Link</text>
</g>
<g fill="none" stroke="#666" stroke-linejoin="round">
<path d="M550.5,70.8 L649.5,70.8 Q652.5,70.8 653.8,73.8 L662.6,97.3 L662.6,113.8 Q662.6,117 659.4,117 L540.6,117 Q537.4,117 537.4,113.8 L537.4,97.3 L546.2,73.8 Q547.5,70.8 550.5,70.8 Z" stroke-width="2.4" fill="#fff"/>
<line x1="537.4" y1="100.3" x2="662.6" y2="100.3" stroke-width="1.4"/>
<rect x="550.6" y="105.2" width="37" height="6" rx="2" stroke-width="1.4"/>
<path d="M612.3,110.8 V107.3 H614.0999999999999 V105.5 H617.5 V107.3 H619.3 V110.8 Z" fill="#666" stroke="none"/><path d="M623.0,110.8 V107.3 H624.8 V105.5 H628.2 V107.3 H630.0 V110.8 Z" fill="#666" stroke="none"/><path d="M633.3,110.8 V107.3 H635.0999999999999 V105.5 H638.5 V107.3 H640.3 V110.8 Z" fill="#666" stroke="none"/><path d="M643.8,110.8 V107.3 H645.5999999999999 V105.5 H649.0 V107.3 H650.8 V110.8 Z" fill="#666" stroke="none"/>
<path d="M599.3,77 C602.5,78.5 605.3,81.5 605.3,85.2 L605.6,86.5 L608.7,84.9 C609.5,86.5 610,88 609.7,89.3 C609,92.3 605.5,94.4 599,94.4 C593,94.4 588.5,92.2 588.5,88 C588.5,85.5 590.5,82.8 592.3,80.9 L595.6,82.4 C597.3,80.8 598.6,79 599.3,77 Z" fill="#666" stroke="none"/>
<path d="M598.7,86 C600.2,87 602,88.5 602,89.9 C602,91.1 600.5,91.8 599,91.8 C597,91.8 595.2,91.1 595.2,89.6 C595.7,88.3 597.2,87 598.7,86 Z" fill="#fff" stroke="none"/>
</g>
<g fill="none" stroke="#666">
<circle cx="831.25" cy="81.25" r="43" stroke-width="2.5" fill="#fff"/>
<line x1="831.25" y1="38.5" x2="831.25" y2="124" stroke-width="1.6"/>
<line x1="788.5" y1="81.25" x2="874" y2="81.25" stroke-width="1.6"/>
<ellipse cx="831.25" cy="81.25" rx="25" ry="43" stroke-width="1.6"/>
<path d="M797.5,53.75 Q831.25,76 865,53.75" stroke-width="1.6"/>
<path d="M797.5,108.75 Q831.25,86.5 865,108.75" stroke-width="1.6"/>
</g>
<g transform="translate(310,30) scale(0.12579)" fill="none" stroke="#666" stroke-linejoin="round" stroke-width="17.5">
<rect x="168" y="56" width="267" height="154" fill="#fff"/>
<rect x="471" y="56" width="266" height="154" fill="#fff"/>
<rect x="168" y="248" width="267" height="159" fill="#fff"/>
<rect x="471" y="248" width="266" height="159" fill="#fff"/>
<path d="M128,452 L475,452 L512,568 L172,568 Z" fill="#fff"/>
<path d="M215,488 h24 l3,12 h-24 z" fill="#666" stroke="none"/><path d="M252,488 h24 l3,12 h-24 z" fill="#666" stroke="none"/><path d="M289,488 h24 l3,12 h-24 z" fill="#666" stroke="none"/><path d="M326,488 h24 l3,12 h-24 z" fill="#666" stroke="none"/><path d="M222,506 h24 l3,12 h-24 z" fill="#666" stroke="none"/><path d="M259,506 h24 l3,12 h-24 z" fill="#666" stroke="none"/><path d="M296,506 h24 l3,12 h-24 z" fill="#666" stroke="none"/><path d="M333,506 h24 l3,12 h-24 z" fill="#666" stroke="none"/><path d="M229,524 h24 l3,12 h-24 z" fill="#666" stroke="none"/><path d="M266,524 h24 l3,12 h-24 z" fill="#666" stroke="none"/><path d="M303,524 h24 l3,12 h-24 z" fill="#666" stroke="none"/><path d="M340,524 h24 l3,12 h-24 z" fill="#666" stroke="none"/>
<path d="M804,455 L852,566 L768,566" fill="#fff"/>
<circle cx="581" cy="326" r="60" fill="#fff"/>
<path d="M481,642 L519,642 L540,772 L503,772 Z" fill="#fff"/>
<path d="M538,381 L476,454 L465,475 L392,480 Q370,492 390,518 L487,518 L508,476 L513,572 L430,583 Q410,590 412,606 L437,755 Q440,777 460,777 L488,775 Q500,770 497,755 L481,642 L595,640 L690,381 Z" fill="#fff"/>
<path d="M536,381 L560,381 M606,381 L634,381"/>
<path d="M655,358 L808,356 Q825,360 820,382 L757,620 Q747,650 700,656 L568,662 Q532,658 538,632 Q544,616 585,612 L600,610 Z" fill="#fff"/>
<path d="M592,664 L600,738 M668,664 L662,738"/>
<path d="M538,776 Q570,748 630,738 Q690,748 752,776 Z" fill="#fff"/>
</g>
<!--ICONS-->
</svg></body></html>
